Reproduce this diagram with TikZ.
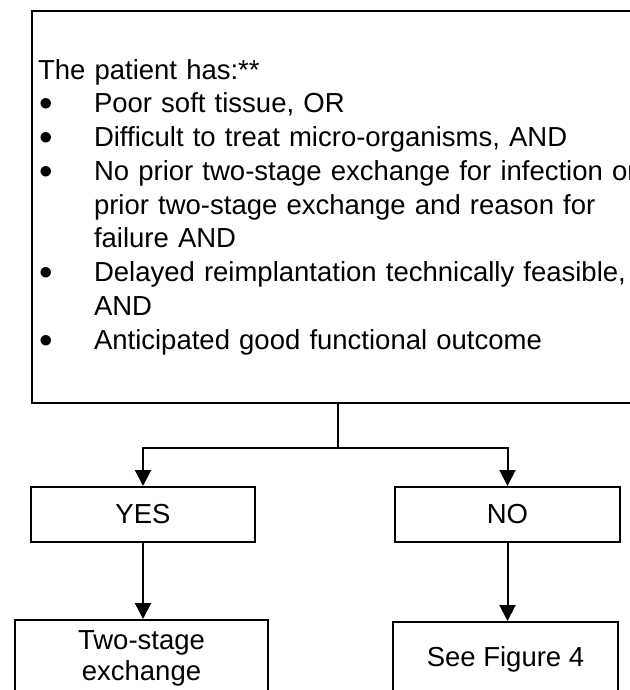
\documentclass[tikz,border=0pt]{standalone}
\usepackage{fontspec}
\setmainfont{Liberation Sans}
\usetikzlibrary{arrows.meta,positioning}

\newcommand{\bul}{\makebox[56pt][l]{\hspace*{1pt}\raisebox{-4pt}[0pt][0pt]{\scalebox{1.4}{\textbullet}}}}
\newcommand{\ind}{\hspace*{56pt}}

\begin{document}
\begin{tikzpicture}[
    x=1pt, y=-1pt,
    box/.style={rectangle, draw=black, line width=2pt, align=center, inner sep=0pt, font=\fontsize{27.5}{31}\selectfont},
    arrow/.style={-{Triangle[length=16pt,width=16pt]}, line width=2pt}
  ]
    \useasboundingbox (0,0) rectangle (629,690);

    % criteria box, runs past the right edge
    \node[box, anchor=north west, text width=658pt, align=left, inner xsep=6pt, minimum height=392pt,
          font=\fontsize{27.5}{33.75}\selectfont] (criteria) at (31,10) {%
      The patient has:**\\
      \bul Poor soft tissue, OR\\
      \bul Difficult to treat micro-organisms, AND\\
      \bul No prior two-stage exchange for infection or\\
      \ind prior two-stage exchange and reason for\\
      \ind failure AND\\
      \bul Delayed reimplantation technically feasible,\\
      \ind AND\\
      \bul Anticipated good functional outcome};

    \node[box, minimum width=224pt, minimum height=55pt] (yes) at (143,514.5) {YES};
    \node[box, minimum width=225pt, minimum height=55pt, right=138pt of yes] (no) {NO};
    \node[box, anchor=north, minimum width=253pt, minimum height=77pt] (twostage) at (141.5,619) {Two-stage\\exchange};
    \node[box, anchor=north, minimum width=225pt, minimum height=74pt] (seefig) at (505.5,621) {See Figure 4};

    \coordinate (split) at (338,448);

    \draw[line width=2pt] (split |- criteria.south) -- (split);
    \draw[arrow] (split) -| (yes.north);
    \draw[arrow] (split) -| (no.north);
    \draw[arrow] (yes.south) -- (yes.south |- twostage.north);
    \draw[arrow] (no.south) -- (no.south |- seefig.north);
  \end{tikzpicture}
\end{document}
